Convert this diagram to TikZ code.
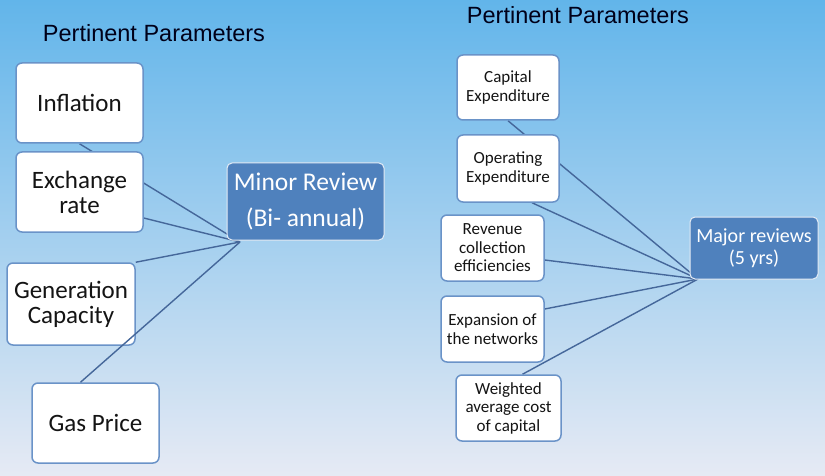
\documentclass[tikz,border=0pt]{standalone}
\usepackage{fontspec}
\setmainfont{Carlito}
\newfontfamily\headfont{Liberation Sans}
\usepackage{tikz}
\usetikzlibrary{backgrounds}
\definecolor{skytop}{HTML}{62B5EA}
\definecolor{skymid}{HTML}{AECFEF}
\definecolor{skybot}{HTML}{E6EAF4}
\definecolor{boxedge}{HTML}{6A93C8}
\definecolor{reviewfill}{HTML}{4F81BD}
\definecolor{linkcol}{HTML}{45679A}
\tikzset{
  param/.style={
    draw=boxedge,
    line width=1.5pt,
    fill=white,
    rounded corners=6pt,
    align=center,
    inner sep=2pt,
    text=black!92
  },
  bigparam/.style={
    param,
    font=\fontsize{25}{25}\selectfont
  },
  smallparam/.style={
    param,
    font=\fontsize{17}{18.5}\selectfont
  },
  review/.style={
    draw=white!85!reviewfill,
    line width=1pt,
    fill=reviewfill,
    rounded corners=5pt,
    align=center,
    text=white
  },
  link/.style={
    draw=linkcol,
    line width=1.4pt
  },
  heading/.style={
    font=\headfont\fontsize{23.5}{24}\selectfont,
    text=black!90!blue,
    anchor=base
  }
}

\begin{document}
\begin{tikzpicture}[x=1pt,y=-1pt]
    \useasboundingbox (0,0) rectangle (825,476);
    \begin{pgfonlayer}{background}
        \shade[top color=skytop, middle color=skymid, bottom color=skybot] (0,0) rectangle (825,476);
    \end{pgfonlayer}

    % headings
    \node[heading] (headL) at (154,42) {Pertinent Parameters};
    \node[heading] (headR) at (578,24) {Pertinent Parameters};

    % left group
    \node[bigparam, minimum width=127pt, minimum height=80pt] (infl) at (79.5,103) {Inflation};
    \node[bigparam, minimum width=127pt, minimum height=80pt] (exch) at (79.5,192) {Exchange\\rate};
    \node[bigparam, minimum width=128pt, minimum height=82pt] (gen) at (71,304) {Generation\\Capacity};
    \node[bigparam, minimum width=127pt, minimum height=80pt] (gas) at (95.5,423) {Gas Price};
    \node[review, minimum width=157pt, minimum height=77pt,
          font=\fontsize{25.5}{36}\selectfont] (minor) at (305.5,201.5) {Minor Review\\(Bi- annual)};
    \coordinate (hubL) at (240,242);

    % right group
    \node[smallparam, minimum width=102pt, minimum height=65pt] (capex) at (508,87.5) {Capital\\Expenditure};
    \node[smallparam, minimum width=102pt, minimum height=67pt] (opex) at (508,168.5) {Operating\\Expenditure};
    \node[smallparam, minimum width=103pt, minimum height=66pt] (rev) at (492.5,248) {Revenue\\collection\\efficiencies};
    \node[smallparam, minimum width=103pt, minimum height=66pt] (expn) at (492.5,329) {Expansion of\\the networks};
    \node[smallparam, minimum width=105pt, minimum height=66pt] (wacc) at (508.5,408) {Weighted\\average cost\\of capital};
    \node[review, minimum width=128pt, minimum height=62pt,
          font=\fontsize{20}{22}\selectfont] (major) at (754,248) {Major reviews\\(5 yrs)};
    \coordinate (hubR) at (698,279);

    % links run behind the boxes
    \begin{pgfonlayer}{background}
        \draw[link] (infl.south) -- (hubL);
        \draw[link] ([yshift=-10pt]exch.center) -- (hubL);
        \draw[link] (gen.north east) -- (hubL);
        %
        \draw[link] (capex.south) -- (hubR);
        \draw[link] ([xshift=24pt]opex.south) -- (hubR);
        \draw[link] ([yshift=-12pt]rev.east) -- (hubR);
        \draw[link] ([yshift=20pt]expn.east) -- (hubR);
        \draw[link] ([xshift=14pt]wacc.north) -- (hubR);
    \end{pgfonlayer}
    % this one crosses the corner of the generation box
    \draw[link] ([xshift=-15pt]gas.north) -- (hubL);
\end{tikzpicture}
\end{document}
